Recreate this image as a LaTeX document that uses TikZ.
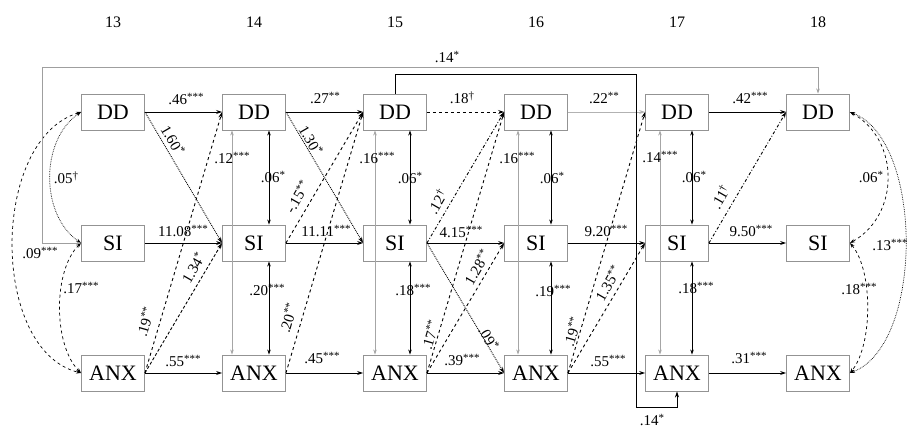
\documentclass[tikz,border=0pt]{standalone}
\usepackage{fontspec}
\setmainfont{Liberation Serif}
\usetikzlibrary{arrows.meta}
\newcommand{\sig}[1]{\raisebox{0.3em}{\fontsize{11}{11}\selectfont #1}}
\begin{document}
\begin{tikzpicture}[x=1pt,y=-1pt,
  box/.style={draw=gray!85, line width=0.9pt, minimum width=63pt, minimum height=36pt, inner sep=0pt, font=\fontsize{22}{24}\selectfont},
  lab/.style={font=\fontsize{15}{16}\selectfont, inner sep=0.5pt},
  num/.style={font=\fontsize{16}{17}\selectfont},
  arr/.style={-{Stealth[length=6pt,width=4pt]}, line width=0.9pt},
  dbl/.style={{Stealth[length=5pt,width=3.5pt]}-{Stealth[length=5pt,width=3.5pt]}, line width=0.8pt},
  cov/.style={dbl, line width=0.7pt}]
\useasboundingbox (0,0) rectangle (909,428);
% column numbers
\foreach \t/\x in {13/113,14/254,15/395,16/536,17/677,18/818}
  \node[num] (n\t) at (\x,22) {\t};
% boxes
\foreach \t/\x in {13/113,14/254,15/395,16/536,17/677,18/818}{
  \node[box] (dd\t) at (\x,112) {DD};
  \node[box] (si\t) at (\x,243) {SI};
  \node[box] (anx\t) at (\x,373) {ANX};
}
% autoregressive paths
\draw[arr] (dd13) -- (dd14);
\draw[arr] (dd14) -- (dd15);
\draw[arr, dashed] (dd15) -- (dd16);
\draw[arr, draw=gray!60] (dd16) -- (dd17);
\draw[arr] (dd17) -- (dd18);
\draw[arr] (si13) -- (si14);
\draw[arr] (si14) -- (si15);
\draw[arr] (si15) -- (si16);
\draw[arr] (si16) -- (si17);
\draw[arr] (si17) -- (si18);
\draw[arr] (anx13) -- (anx14);
\draw[arr] (anx14) -- (anx15);
\draw[arr] (anx15) -- (anx16);
\draw[arr] (anx16) -- (anx17);
\draw[arr] (anx17) -- (anx18);
\node[lab] (l1) at (186,99) {.46\sig{***}};
\node[lab] (l2) at (325,98) {.27\sig{**}};
\node[lab] (l3) at (462,98) {.18\sig{†}};
\node[lab] (l4) at (604,98) {.22\sig{**}};
\node[lab] (l5) at (750,98) {.42\sig{***}};
\node[lab] (l6) at (183,231) {11.08\sig{***}};
\node[lab] (l7) at (326,231) {11.11\sig{***}};
\node[lab] (l8) at (461,232) {4.15\sig{***}};
\node[lab] (l9) at (606,231) {9.20\sig{***}};
\node[lab] (l10) at (751,231) {9.50\sig{***}};
\node[lab] (l11) at (183,361) {.55\sig{***}};
\node[lab] (l12) at (322,358) {.45\sig{***}};
\node[lab] (l13) at (462,360) {.39\sig{***}};
\node[lab] (l14) at (608,361) {.55\sig{***}};
\node[lab] (l15) at (749,358) {.31\sig{***}};
% cross-lagged paths
\draw[arr, densely dotted] (dd13.east) -- (si14.west);
\draw[arr, dashed] (anx13.east) -- (dd14.west);
\draw[arr, densely dashed] (anx13.east) -- (si14.west);
\draw[arr, densely dotted] (dd14.east) -- (si15.west);
\draw[arr, dashed] (si14.east) -- (dd15.west);
\draw[arr, dashed] (anx14.east) -- (dd15.west);
\draw[arr, dash dot] (si15.east) -- (dd16.west);
\draw[arr, dashed] (anx15.east) -- (dd16.west);
\draw[arr, dashed] (anx15.east) -- (si16.west);
\draw[arr, densely dotted] (si15.east) -- (anx16.west);
\draw[arr, dashed] (anx16.east) -- (dd17.west);
\draw[arr, dashed] (anx16.east) -- (si17.west);
\draw[arr, dash dot] (si17.east) -- (dd18.west);
\node[lab, rotate=-60] (c1) at (173,140) {1.60\sig{*}};
\node[lab, rotate=74] (c2) at (145,322) {.19\sig{**}};
\node[lab, rotate=60] (c3) at (193,268) {1.34\sig{*}};
\node[lab, rotate=-60] (c4) at (311,140) {1.30\sig{*}};
\node[lab, rotate=60] (c5) at (297,197) {-.15\sig{**}};
\node[lab, rotate=74] (c6) at (288,318) {.20\sig{**}};
\node[lab, rotate=60] (c7) at (437,202) {.12\sig{†}};
\node[lab, rotate=74] (c8) at (430,335) {.17\sig{**}};
\node[lab, rotate=60] (c9) at (477,267) {1.28\sig{**}};
\node[lab, rotate=-60] (c10) at (489,338) {.09\sig{*}};
\node[lab, rotate=74] (c11) at (572,332) {.19\sig{**}};
\node[lab, rotate=60] (c12) at (608,283) {1.35\sig{**}};
\node[lab, rotate=60] (c13) at (720,197) {.11\sig{†}};
% within-time covariances, columns 14-17
\foreach \t/\o in {14/-22,15/-20,16/-18,17/-17}{
  \draw[cov] ([xshift=15pt]dd\t.south) -- ([xshift=15pt]si\t.north);
  \draw[cov] ([xshift=15pt]si\t.south) -- ([xshift=15pt]anx\t.north);
  \draw[cov, draw=gray!70] ([xshift=\o pt]dd\t.south) -- ([xshift=\o pt]anx\t.north);
}
\node[lab] (v1) at (232,158) {.12\sig{***}};
\node[lab] (v2) at (273,177) {.06\sig{*}};
\node[lab] (v3) at (267,290) {.20\sig{***}};
\node[lab] (v4) at (377,158) {.16\sig{***}};
\node[lab] (v5) at (410,178) {.06\sig{*}};
\node[lab] (v6) at (413,290) {.18\sig{***}};
\node[lab] (v7) at (517,158) {.16\sig{***}};
\node[lab] (v8) at (552,178) {.06\sig{*}};
\node[lab] (v9) at (553,291) {.19\sig{***}};
\node[lab] (v10) at (660,157) {.14\sig{***}};
\node[lab] (v11) at (694,177) {.06\sig{*}};
\node[lab] (v12) at (696,288) {.18\sig{***}};
% covariances, wave 13 (left curves)
\draw[cov, densely dotted] (dd13.west) .. controls (40,140) and (40,215) .. (si13.west);
\draw[cov, dashed] (si13.west) .. controls (53,270) and (53,345) .. (anx13.west);
\draw[cov, dashed] (dd13.west) .. controls (-10,140) and (-10,350) .. (anx13.west);
\node[lab] (w1) at (66,178) {.05\sig{†}};
\node[lab] (w2) at (40,253) {.09\sig{***}};
\node[lab] (w3) at (81,288) {.17\sig{***}};
% covariances, wave 18 (right curves)
\draw[cov, dashed] (dd18.east) .. controls (900,140) and (900,215) .. (si18.east);
\draw[cov, dashed] (si18.east) .. controls (873,270) and (873,345) .. (anx18.east);
\draw[cov, densely dotted] (dd18.east) .. controls (924,140) and (924,345) .. (anx18.east);
\node[lab] (w4) at (871,177) {.06\sig{*}};
\node[lab] (w5) at (890,245) {.13\sig{***}};
\node[lab] (w6) at (859,289) {.18\sig{***}};
% long paths
\draw[dbl, draw=gray!75] (si13.west) -- ++(-39,0) |- (818,67) -- (dd18.north);
\node[lab] (t1) at (447,57) {.14\sig{*}};
\draw[arr] (dd15.north) -- ++(0,-19) -| (636,407) -| (anx17.south);
\node[lab] (t2) at (652,420) {.14\sig{*}};
\end{tikzpicture}
\end{document}
